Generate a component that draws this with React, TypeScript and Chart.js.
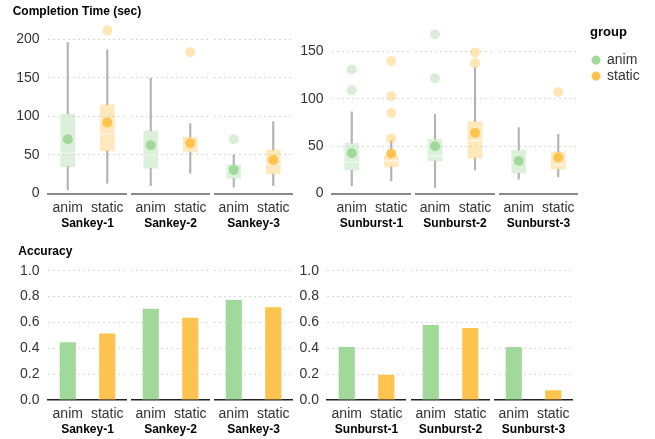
import React, { useEffect, useRef } from 'react';
import { Chart, registerables } from 'chart.js';

Chart.register(...registerables);

// ---------- data ----------
const groups = ['anim', 'static'];
const sankeyFacets = ['Sankey-1', 'Sankey-2', 'Sankey-3'];
const sunburstFacets = ['Sunburst-1', 'Sunburst-2', 'Sunburst-3'];

// Completion time (sec) box statistics, ordered: F1 anim, F1 static, F2 anim, F2 static, F3 anim, F3 static
const sankeyLowWhisker = [4.7, 13.3, 10.3, 26.3, 8.2, 10.3];
const sankeyQ1 = [34.9, 55.2, 32.7, 53.5, 19.8, 25.4];
const sankeyMedian = [52, 76.8, 50, 63, 29, 38];
const sankeyQ3 = [103, 114.8, 81.1, 72.9, 37, 56.5];
const sankeyHighWhisker = [195.5, 186, 149.3, 90.6, 50, 93.2];
const sankeyMean = [70.3, 91.9, 62.5, 65.1, 30.6, 43.5];
const sankeyOutliers = [[], [211], [], [183], [70.3], []];

const sunburstLowWhisker = [8, 13.3, 6.3, 24.9, 15.1, 17.5];
const sunburstQ1 = [24.6, 28.1, 34.4, 37.3, 21.4, 25.7];
const sunburstMedian = [33.4, 34.4, 39.7, 55.6, 33, 30.2];
const sunburstQ3 = [53.1, 39.7, 57.3, 76, 45.7, 43.9];
const sunburstHighWhisker = [86.2, 55.6, 83.7, 133, 69.7, 62.6];
const sunburstMean = [42.5, 42.2, 50, 64, 34.4, 38];
const sunburstOutliers = [[131, 109], [140, 103, 85.1, 58], [168.2, 121.8], [148.9, 137.6], [], [107]];

// Accuracy
const sankeyAccuracy = [0.451, 0.52, 0.711, 0.642, 0.779, 0.722];
const sunburstAccuracy = [0.415, 0.201, 0.585, 0.562, 0.415, 0.08];

// axis domains / ticks
const sankeyTimeMax = 211.8;
const sunburstTimeMax = 172.7;
const timeStep = 50;
const accuracyMax = 1.0;
const accuracyStep = 0.2;

// ---------- styles ----------
const GREEN = '#a1d99b';
const ORANGE = '#fec44f';
const groupColor = [GREEN, ORANGE];
const rgba = (hex: string, a: number) => {
  const n = parseInt(hex.slice(1), 16);
  return `rgba(${(n >> 16) & 255},${(n >> 8) & 255},${n & 255},${a})`;
};
const FONT = '"Liberation Sans", Arial, Helvetica, sans-serif';
Chart.defaults.font.family = FONT;
Chart.defaults.color = '#333';

type Stats = {
  lo: number[]; q1: number[]; med: number[]; q3: number[]; hi: number[]; mean: number[]; out: number[][];
};
const sankeyStats: Stats = { lo: sankeyLowWhisker, q1: sankeyQ1, med: sankeyMedian, q3: sankeyQ3, hi: sankeyHighWhisker, mean: sankeyMean, out: sankeyOutliers };
const sunburstStats: Stats = { lo: sunburstLowWhisker, q1: sunburstQ1, med: sunburstMedian, q3: sunburstQ3, hi: sunburstHighWhisker, mean: sunburstMean, out: sunburstOutliers };

type RowSpec = {
  canvasTop: number; canvasH: number; plotTop: number; xAxisH: number; facetTitleBottom: number;
  titlePadTop: number; axisColor: string; axisWidth: number;
};
const topRow: RowSpec = { canvasTop: 0, canvasH: 235, plotTop: 30, xAxisH: 41.5, facetTitleBottom: 4.3, titlePadTop: 4.8, axisColor: '#8a8a8a', axisWidth: 2 };
const bottomRow: RowSpec = { canvasTop: 235, canvasH: 204, plotTop: 35.7, xAxisH: 39, facetTitleBottom: 1.8, titlePadTop: 9.5, axisColor: '#222', axisWidth: 1.5 };

type PanelSpec = {
  row: RowSpec; facetLefts: number[]; facetWidths: number[]; firstCanvasLeft: number; tickPad: number;
  yTitle?: string; titleLeft?: number; yMax: number; yStep: number; fmt: (v: number) => string;
};

type Box = { x: number; y: number; w: number; h: number };

const baseOpts = {
  responsive: false,
  maintainAspectRatio: false,
  animation: false,
  devicePixelRatio: 1,
  events: [],
};

function facetOptions(p: PanelSpec, f: number, facetName: string): any {
  const first = f === 0;
  const yWidth = first ? p.facetLefts[0] - p.firstCanvasLeft : 0;
  return {
    ...baseOpts,
    layout: { autoPadding: false, padding: { left: 0, top: p.row.plotTop, right: 0, bottom: 0 } },
    plugins: { legend: { display: false }, tooltip: { enabled: false }, title: { display: false } },
    scales: {
      x: {
        type: 'category',
        offset: true,
        grid: { drawOnChartArea: false, drawTicks: true, tickLength: 3, tickColor: 'rgba(0,0,0,0)' },
        border: { display: true, color: p.row.axisColor, width: p.row.axisWidth },
        ticks: { padding: 3, color: '#333', font: { size: 14 }, maxRotation: 0, autoSkip: false },
        title: { display: true, text: facetName, color: '#000', font: { size: 12, weight: 'bold' }, padding: { top: 0, bottom: p.row.facetTitleBottom } },
        afterFit: (s: any) => { s.height = p.row.xAxisH; },
      },
      y: {
        min: 0,
        max: p.yMax,
        grid: {
          color: (c: any) => (c.tick && c.tick.value === 0 ? 'rgba(0,0,0,0)' : '#d9d9d9'),
          drawTicks: false,
          lineWidth: 1,
        },
        border: { display: false, dash: [2, 3] },
        ticks: {
          display: first,
          stepSize: p.yStep,
          includeBounds: false,
          padding: p.tickPad,
          color: '#333',
          font: { size: 14 },
          callback: (v: any) => p.fmt(Number(v)),
        },
        afterFit: (s: any) => { s.width = yWidth; },
      },
    },
  };
}

function titleConfig(text: string, padLeft: number, padTop: number): any {
  return {
    type: 'bar',
    data: { labels: [], datasets: [] },
    options: {
      ...baseOpts,
      layout: { autoPadding: false, padding: { left: padLeft, top: 0, right: 0, bottom: 0 } },
      scales: { x: { display: false }, y: { display: false } },
      plugins: {
        legend: { display: false },
        tooltip: { enabled: false },
        title: { display: true, text, align: 'start', color: '#000', font: { size: 12, weight: 'bold' }, padding: { top: padTop, bottom: 2 } },
      },
    },
  };
}

function boxDatasets(st: Stats, f: number): any[] {
  const idx = [2 * f, 2 * f + 1];
  const outliers = idx.flatMap((i, g) => st.out[i].map((v) => ({ x: groups[g], y: v })));
  return [
    {
      type: 'line', label: 'mean', data: idx.map((i) => st.mean[i]), showLine: false, clip: false,
      pointStyle: 'circle', pointRadius: 5, pointBackgroundColor: groupColor, pointBorderWidth: 0,
    },
    {
      type: 'line', label: 'median', data: idx.map((i) => st.med[i]), showLine: false, clip: false,
      pointStyle: 'line', pointRadius: 7, pointBorderColor: 'rgba(255,255,255,0.65)', pointBorderWidth: 1.2,
    },
    {
      type: 'line', label: 'outliers', data: outliers, showLine: false, clip: false,
      pointStyle: 'circle', pointRadius: 5, pointBorderWidth: 0,
      pointBackgroundColor: (c: any) => (c.raw && c.raw.x === 'anim' ? rgba(GREEN, 0.42) : rgba(ORANGE, 0.42)),
    },
    {
      type: 'bar', label: 'box', data: idx.map((i) => [st.q1[i], st.q3[i]]), grouped: false,
      barThickness: 14, backgroundColor: groupColor.map((c) => rgba(c, 0.38)), borderWidth: 0,
    },
    {
      type: 'bar', label: 'lowWhisker', data: idx.map((i) => [st.lo[i], st.q1[i]]), grouped: false,
      barThickness: 1.5, backgroundColor: '#b3b3b3', borderWidth: 0,
    },
    {
      type: 'bar', label: 'highWhisker', data: idx.map((i) => [st.q3[i], st.hi[i]]), grouped: false,
      barThickness: 1.5, backgroundColor: '#b3b3b3', borderWidth: 0,
    },
  ];
}

function barDatasets(acc: number[], f: number): any[] {
  const idx = [2 * f, 2 * f + 1];
  return [
    {
      type: 'bar', label: 'accuracy', data: idx.map((i) => acc[i]), backgroundColor: groupColor,
      borderColor: 'rgba(255,255,255,0.45)', borderWidth: 1, barThickness: 17.5,
    },
  ];
}

function ChartCanvas({ box, config }: { box: Box; config: any }) {
  const ref = useRef<HTMLCanvasElement | null>(null);
  useEffect(() => {
    if (!ref.current) return;
    const chart = new Chart(ref.current, config);
    return () => chart.destroy();
  }, []);
  return (
    <canvas
      ref={ref}
      width={box.w}
      height={box.h}
      style={{ position: 'absolute', left: box.x, top: box.y, width: box.w, height: box.h }}
    />
  );
}

const fmtInt = (v: number) => String(Math.round(v));
const fmtOne = (v: number) => v.toFixed(1);

const panels: { spec: PanelSpec; facets: string[]; kind: 'box' | 'bar'; stats?: Stats; acc?: number[] }[] = [
  {
    spec: { row: topRow, facetLefts: [48, 131, 214], facetWidths: [79, 79, 79], firstCanvasLeft: 0, tickPad: 8.5, yTitle: 'Completion Time (sec)', titleLeft: 12.7, yMax: sankeyTimeMax, yStep: timeStep, fmt: fmtInt },
    facets: sankeyFacets, kind: 'box', stats: sankeyStats,
  },
  {
    spec: { row: topRow, facetLefts: [332, 415, 499], facetWidths: [79, 80, 79], firstCanvasLeft: 290, tickPad: 8.5, yMax: sunburstTimeMax, yStep: timeStep, fmt: fmtInt },
    facets: sunburstFacets, kind: 'box', stats: sunburstStats,
  },
  {
    spec: { row: bottomRow, facetLefts: [48, 131, 214], facetWidths: [79, 79, 79], firstCanvasLeft: 0, tickPad: 8.5, yTitle: 'Accuracy', titleLeft: 18.3, yMax: accuracyMax, yStep: accuracyStep, fmt: fmtOne },
    facets: sankeyFacets, kind: 'bar', acc: sankeyAccuracy,
  },
  {
    spec: { row: bottomRow, facetLefts: [327, 411, 494], facetWidths: [79, 79, 79], firstCanvasLeft: 290, tickPad: 8, yMax: accuracyMax, yStep: accuracyStep, fmt: fmtOne },
    facets: sunburstFacets, kind: 'bar', acc: sunburstAccuracy,
  },
];

const legendConfig: any = {
  type: 'bar',
  data: {
    labels: [],
    datasets: groups.map((g, i) => ({ label: g, data: [], backgroundColor: groupColor[i], borderWidth: 0 })),
  },
  options: {
    ...baseOpts,
    layout: { autoPadding: false, padding: 0 },
    scales: { x: { display: false }, y: { display: false } },
    plugins: {
      tooltip: { enabled: false },
      legend: {
        display: true,
        position: 'left',
        align: 'start',
        title: { display: true, text: 'group', position: 'start', color: '#000', font: { size: 13, weight: 'bold' }, padding: { top: 0.5, bottom: 10 } },
        labels: { usePointStyle: true, pointStyle: 'circle', boxWidth: 8, boxHeight: 6.4, padding: 2, color: '#333', font: { size: 14 } },
      },
    },
  },
};

export default function App() {
  const items: { key: string; box: Box; config: any }[] = [];
  panels.forEach((pn, pi) => {
    const p = pn.spec;
    if (p.yTitle) {
      items.push({
        key: `t-${pi}`,
        box: { x: 0, y: p.row.canvasTop, w: 240, h: Math.ceil(p.row.plotTop) },
        config: titleConfig(p.yTitle, p.titleLeft || 0, p.row.titlePadTop),
      });
    }
    pn.facets.forEach((name, f) => {
      const first = f === 0;
      const x = first ? p.firstCanvasLeft : p.facetLefts[f];
      const w = first ? p.facetLefts[0] + p.facetWidths[0] - p.firstCanvasLeft : p.facetWidths[f];
      const datasets = pn.kind === 'box' ? boxDatasets(pn.stats as Stats, f) : barDatasets(pn.acc as number[], f);
      items.push({
        key: `${pi}-${f}`,
        box: { x, y: p.row.canvasTop, w, h: p.row.canvasH },
        config: { type: 'bar', data: { labels: groups, datasets }, options: facetOptions(p, f, name) },
      });
    });
  });
  return (
    <div style={{ position: 'fixed', left: 0, top: 0, width: 655, height: 439, background: '#fff', overflow: 'hidden' }}>
      {items.map((it) => (
        <ChartCanvas key={it.key} box={it.box} config={it.config} />
      ))}
      <ChartCanvas box={{ x: 590, y: 25, w: 240, h: 70 }} config={legendConfig} />
    </div>
  );
}
